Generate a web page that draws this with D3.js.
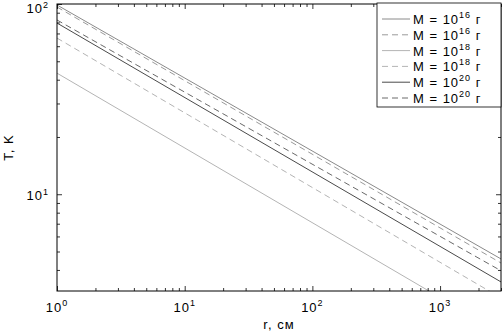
<!DOCTYPE html>
<meta charset="utf-8">
<script src="https://d3js.org/d3.v7.min.js"></script>
<style>
  body { margin: 0; background: #fff; }
  text { font-family: "Liberation Sans", Arial, sans-serif; fill: #000; }
</style>
<div id="my_dataviz"></div>
<script>

// data: each series is a straight line on log-log axes,
// so two points (r = 1 and r = 3000) describe it
var rValues = [1, 3000];
var tM16solid  = [98.8, 4.57];
var tM16dashed = [96.4, 4.35];
var tM18solid  = [43.3, 1.86];
var tM18dashed = [66.2, 2.85];
var tM20solid  = [79.4, 3.46];
var tM20dashed = [82.4, 3.96];

var legendExp = ["16", "16", "18", "18", "20", "20"];
var xTicks = [1, 10, 100, 1000];
var xTickExp = ["0", "1", "2", "3"];
var yTicks = [10, 100];
var yTickExp = ["1", "2"];

var series = [
  {vals: tM16solid,  color: "#8a8a8a", dash: null},
  {vals: tM16dashed, color: "#9a9a9a", dash: "6,4"},
  {vals: tM18solid,  color: "#b4b4b4", dash: null},
  {vals: tM18dashed, color: "#b4b4b4", dash: "6,4"},
  {vals: tM20solid,  color: "#4a4a4a", dash: null},
  {vals: tM20dashed, color: "#6a6a6a", dash: "6,4"}
];

var W = 502, H = 332;
var margin = {top: 4, right: 1, bottom: 41, left: 57},
    width = W - margin.left - margin.right,
    height = H - margin.top - margin.bottom;

var svg = d3.select("#my_dataviz")
  .append("svg")
    .attr("width", W)
    .attr("height", H)
  .append("g")
    .attr("transform", "translate(" + margin.left + "," + margin.top + ")");

var x = d3.scaleLog().domain([1, 3000]).range([0, width]);
var y = d3.scaleLog().domain([3.1, 100]).range([height, 0]);

svg.append("clipPath").attr("id", "clip")
  .append("rect").attr("width", width).attr("height", height);

// lines
var line = d3.line()
  .x(function(d) { return x(d[0]); })
  .y(function(d) { return y(d[1]); });

series.forEach(function(s) {
  svg.append("path")
    .datum(rValues.map(function(r, i) { return [r, s.vals[i]]; }))
    .attr("clip-path", "url(#clip)")
    .attr("fill", "none")
    .attr("stroke", s.color)
    .attr("stroke-width", 1)
    .attr("stroke-dasharray", s.dash)
    .attr("d", line);
});

// ticks, pointing inward on all four sides
var xMinor = x.ticks().filter(function(v) { return xTicks.indexOf(v) < 0; });
var yMinor = y.ticks().filter(function(v) { return yTicks.indexOf(v) < 0; });

function tickAxis(axis, vals, size, tx, ty) {
  var g = svg.append("g")
    .attr("transform", "translate(" + tx + "," + ty + ")")
    .call(axis.tickValues(vals).tickSize(size).tickFormat(""));
  g.select(".domain").remove();
  g.selectAll("line").attr("stroke", "#000").attr("stroke-width", 0.8);
}
tickAxis(d3.axisBottom(x), xTicks, -5, 0, height);
tickAxis(d3.axisBottom(x), xMinor, -3, 0, height);
tickAxis(d3.axisTop(x), xTicks, -5, 0, 0);
tickAxis(d3.axisTop(x), xMinor, -3, 0, 0);
tickAxis(d3.axisLeft(y), yTicks, -5, 0, 0);
tickAxis(d3.axisLeft(y), yMinor, -3, 0, 0);
tickAxis(d3.axisRight(y), yTicks, -5, width, 0);
tickAxis(d3.axisRight(y), yMinor, -3, width, 0);

// box
svg.append("rect")
  .attr("width", width).attr("height", height)
  .attr("fill", "none").attr("stroke", "#000").attr("stroke-width", 1);

// tick labels with superscripts
xTicks.forEach(function(v, i) {
  var t = svg.append("text")
    .attr("x", x(v)).attr("y", height + 21)
    .attr("text-anchor", "middle")
    .style("font-size", "13px").style("letter-spacing", "1px");
  t.append("tspan").text("10");
  t.append("tspan").attr("dy", -6).style("font-size", "9px").text(xTickExp[i]);
});
yTicks.forEach(function(v, i) {
  var t = svg.append("text")
    .attr("x", -8).attr("y", Math.max(y(v) + 6, 9))
    .attr("text-anchor", "end")
    .style("font-size", "13px").style("letter-spacing", "1px");
  t.append("tspan").text("10");
  t.append("tspan").attr("dy", -5).style("font-size", "9px").text(yTickExp[i]);
});

// axis titles
svg.append("text")
  .attr("x", width / 2).attr("y", height + 38)
  .attr("text-anchor", "middle")
  .style("font-size", "13px").style("letter-spacing", "1px")
  .text("r, см");
svg.append("text")
  .attr("transform", "rotate(-90)")
  .attr("x", -height / 2).attr("y", -margin.left + 13)
  .attr("text-anchor", "middle")
  .style("font-size", "13px").style("letter-spacing", "1px")
  .text("T, K");

// legend
var lx = x(3000) - 124, ly = -1;
svg.append("rect")
  .attr("x", lx).attr("y", ly)
  .attr("width", 124).attr("height", 104)
  .attr("fill", "#fff").attr("stroke", "#000").attr("stroke-width", 0.8);

series.forEach(function(s, i) {
  var yy = ly + 16 + i * 15.8;
  svg.append("line")
    .attr("x1", lx + 5).attr("x2", lx + 33)
    .attr("y1", yy).attr("y2", yy)
    .attr("stroke", s.color).attr("stroke-width", 1)
    .attr("stroke-dasharray", s.dash);
  var t = svg.append("text")
    .attr("x", lx + 36).attr("y", yy + 5)
    .style("font-size", "13px").style("letter-spacing", "1px");
  t.append("tspan").text("M = 10");
  t.append("tspan").attr("dy", -6).style("font-size", "9px").text(legendExp[i]);
  t.append("tspan").attr("dy", 6).text(" г");
});

</script>
